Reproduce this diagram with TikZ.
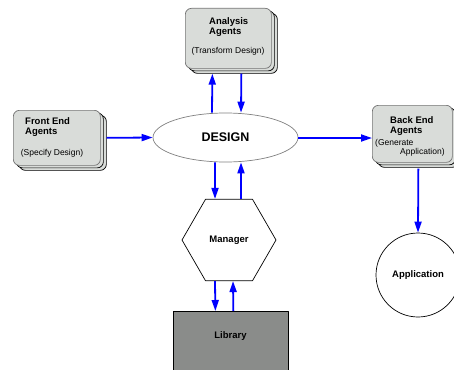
\documentclass[tikz,border=0pt]{standalone}
\usepackage{fontspec}
\setmainfont{Liberation Sans}
\usetikzlibrary{arrows.meta,shapes.geometric,shadows}
\definecolor{agentgray}{HTML}{D9DCD9}
\definecolor{libgray}{HTML}{8A8C8A}
\begin{document}
\begin{tikzpicture}[x=1pt, y=-1pt, line join=round,
  agent/.style={draw=black!55, fill=agentgray, rounded corners=6pt, line width=.7pt,
    copy shadow={shadow xshift=6pt, shadow yshift=-5pt, fill=agentgray, draw=black, line width=.7pt},
    copy shadow={shadow xshift=3pt, shadow yshift=-2.5pt, fill=agentgray, draw=black, line width=.7pt}},
  title/.style={font=\fontsize{9.5}{10.5}\selectfont\bfseries, align=left, anchor=north west, inner sep=0pt},
  note/.style={font=\fontsize{8.5}{9}\selectfont, inner sep=0pt},
  tag/.style={font=\fontsize{9.5}{11}\selectfont\bfseries},
  flow/.style={draw=blue, line width=1.8pt, -{Triangle[length=11pt,width=7pt]}}]
\useasboundingbox (0,0) rectangle (454,369);
% agents
\node[agent, anchor=north west, minimum width=86pt, minimum height=60pt] (analysis) at (185,8) {};
\node[agent, anchor=north west, minimum width=87pt, minimum height=55pt] (front) at (13,110) {};
\node[agent, anchor=north west, minimum width=80pt, minimum height=57pt] (back) at (372,105) {};
\node[title] (analysisT) at (209,17) {Analysis\\Agents};
\node[note] (analysisN) at (228,51) {(Transform Design)};
\node[title] (frontT) at (25,117) {Front End\\Agents};
\node[note] (frontN) at (52,153) {(Specify Design)};
\node[title] (backT) at (390,116) {Back End\\Agents};
\node[note, align=left, anchor=north west] (backN) at (375,139) {(Generate\\\hspace*{25pt}Application)};
% design, manager, library, application
\node[ellipse, draw=black!50, fill=white, line width=.7pt, minimum width=145pt, minimum height=49pt,
  font=\fontsize{12.5}{14}\selectfont\bfseries] (design) at (225.5,137.5) {DESIGN};
\node[regular polygon, regular polygon sides=6, draw, line width=.7pt, inner sep=0pt,
  minimum size=94pt, tag] (manager) at (229,240) {Manager};
\node[rectangle, draw, fill=libgray, line width=.7pt, anchor=north west,
  minimum width=115pt, minimum height=64pt] (library) at (173,311) {};
\node[tag] (libraryT) at (230.5,336) {Library};
\node[circle, draw, line width=.7pt, minimum size=84pt, inner sep=0pt, tag] (app) at (418,275) {Application};
% flows
\draw[flow] ([xshift=6pt]front.east) -- (design.west);
\draw[flow] ([yshift=-0.5pt]design.east) -- ([yshift=-0.5pt]back.west |- design.east);
\draw[flow] ([xshift=-13.5pt]design.north) -- ([xshift=-16pt,yshift=-5pt]analysis.south);
\draw[flow] ([xshift=13pt,yshift=-5pt]analysis.south) -- ([xshift=15.5pt]design.north);
\draw[flow] ([xshift=-10.5pt]design.south) -- ([xshift=-14pt]manager.north);
\draw[flow] ([xshift=12pt]manager.north) -- ([xshift=15.5pt]design.south);
\draw[flow] ([xshift=-14pt]manager.south) -- ([xshift=-15.5pt]library.north);
\draw[flow] ([xshift=2.5pt]library.north) -- ([xshift=4pt]manager.south);
\draw[flow] ([xshift=6pt,yshift=-6pt]back.south) -- (app.north);
\end{tikzpicture}
\end{document}
